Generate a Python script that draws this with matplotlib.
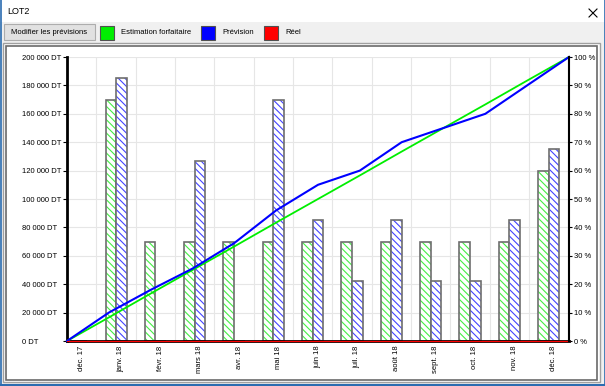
import matplotlib.pyplot as plt
from matplotlib.patches import Rectangle
from matplotlib.ticker import FuncFormatter
import matplotlib.transforms as mtransforms
import numpy as np

plt.rcParams['font.family'] = ['Liberation Sans', 'DejaVu Sans']
plt.rcParams['hatch.linewidth'] = 0.8

# data
months = ['déc. 17', 'janv. 18', 'févr. 18', 'mars 18', 'avr. 18', 'mai 18', 'juin 18',
          'juil. 18', 'août 18', 'sept. 18', 'oct. 18', 'nov. 18', 'déc. 18']
estimation = [0, 170000, 70000, 70000, 70000, 70000, 70000, 70000, 70000, 70000, 70000, 70000, 120000]
prevision = [0, 185000, 0, 127000, 0, 170000, 85000, 42000, 85000, 42000, 42000, 85000, 135000]
estimation_pct = [0, 8.3, 16.7, 25, 33.3, 41.7, 50, 58.3, 66.7, 75, 83.3, 91.7, 100]
prevision_pct = [0, 10, 18, 25.5, 34.5, 46, 55, 60, 70, 75, 80, 90, 100]
reel_pct = [0, 0, 0, 0, 0, 0, 0, 0, 0, 0, 0, 0, 0]
dt_ticks = np.arange(0, 200001, 20000)
pct_ticks = np.arange(0, 101, 10)

green = '#00ee00'
blue = '#0000ff'
red = '#ff0000'

W, H = 605, 386
fig = plt.figure(figsize=(W / 100, H / 100), dpi=100, facecolor='#f0f0f0')

def px(x, y, w, h):
    return [x / W, 1 - (y + h) / H, w / W, h / H]

############ window chrome ############
bg = fig.add_axes([0, 0, 1, 1])
bg.set_xlim(0, W)
bg.set_ylim(H, 0)
bg.axis('off')
bg.add_patch(Rectangle((0, 0), W, 22, fc='white', ec='none'))
bg.text(7, 12, 'LOT2', va='center', ha='left', fontsize=6.5)
bg.plot([589, 597], [9, 17], color='black', lw=0.8)
bg.plot([589, 597], [17, 9], color='black', lw=0.8)

bg.add_patch(Rectangle((4, 24), 91, 16, fc='#e1e1e1', ec='#adadad', lw=0.8))
bg.text(49.5, 32.5, 'Modifier les prévisions', va='center', ha='center', fontsize=5.5)

legend_items = [(100, green, 'Estimation forfaitaire'), (201, blue, 'Prévision'), (264, red, 'Réel')]
for x0, c, name in legend_items:
    bg.add_patch(Rectangle((x0, 26), 14, 14, fc=c, ec='#505050', lw=0.8))
    bg.text(x0 + 21, 33, name, va='center', ha='left', fontsize=5.5)

bg.add_patch(Rectangle((3, 43), 597, 339, fc='white', ec='#a0a0a0', lw=1))
bg.add_patch(Rectangle((6, 46), 591, 334, fc='none', ec='#6a6a6a', lw=1.2))

# window border
bg.plot([0.5, 0.5], [0, H], color='#2b6cb0', lw=1.2)
bg.plot([W - 0.5, W - 0.5], [0, H], color='#2b6cb0', lw=1.2)
bg.plot([0, W], [H - 1, H - 1], color='#2b6cb0', lw=1.5)

############ bars (left axis, DT) ############
rect = px(67, 57, 502, 284)
ax = fig.add_axes(rect)
ax.set_facecolor('none')
x = np.arange(len(months))
w = 0.27
ax.bar(x - w / 2, estimation, w, color='white', edgecolor='#44ee44', hatch='\\' * 5, lw=0)
ax.bar(x - w / 2, estimation, w, fill=False, edgecolor='#6e6e6e', lw=1.2)
ax.bar(x + w / 2, prevision, w, color='white', edgecolor='#4444ff', hatch='\\' * 5, lw=0)
ax.bar(x + w / 2, prevision, w, fill=False, edgecolor='#6e6e6e', lw=1.2)

ax.set_xlim(-0.25, 12.52)
ax.set_ylim(0, 200000)
ax.set_yticks(dt_ticks)
ax.yaxis.set_major_formatter(FuncFormatter(lambda v, p: '{:,.0f} DT'.format(v).replace(',', ' ')))
ax.set_xticks(x)
ax.set_xticklabels(months, rotation=90, fontsize=5.5, va='top', ha='center')
ax.set_xticks(x + 0.5, minor=True)
ax.tick_params(axis='x', which='both', length=0, pad=3.5)
ax.tick_params(axis='y', length=3, width=0.8, pad=29.5, labelsize=5.5)
for lbl in ax.get_yticklabels():
    lbl.set_ha('left')
shift = mtransforms.ScaledTranslation(5 / 100, 0, fig.dpi_scale_trans)
for lbl in ax.get_xticklabels():
    lbl.set_transform(lbl.get_transform() + shift)
ax.grid(True, axis='y', color='#e6e6e6', lw=0.8)
ax.grid(True, axis='x', which='minor', color='#e6e6e6', lw=0.8)
ax.set_axisbelow(True)
ax.spines['top'].set_visible(False)
ax.spines['right'].set_visible(False)
ax.spines['left'].set_linewidth(2)
ax.spines['bottom'].set_linewidth(2)

############ cumulative lines (right axis, %) ############
axp = fig.add_axes(rect, facecolor='none')
axp.set_xlim(0, 12)
axp.set_ylim(0, 100)
xl = np.arange(len(months))
axp.plot(xl, estimation_pct, color=green, lw=1.3, clip_on=False)
axp.plot(xl, prevision_pct, color=blue, lw=1.5, clip_on=False)
axp.plot(xl, reel_pct, color=red, lw=0.9, clip_on=False)
axp.set_xticks([])
axp.yaxis.tick_right()
axp.set_yticks(pct_ticks)
axp.yaxis.set_major_formatter(FuncFormatter(lambda v, p: '{:.0f} %'.format(v)))
axp.tick_params(axis='y', length=2, width=0.8, pad=1.5, labelsize=5.5)
for s in ['top', 'left', 'bottom']:
    axp.spines[s].set_visible(False)
axp.spines['right'].set_linewidth(1.5)

fig.savefig('out.png', dpi=100, facecolor=fig.get_facecolor())
